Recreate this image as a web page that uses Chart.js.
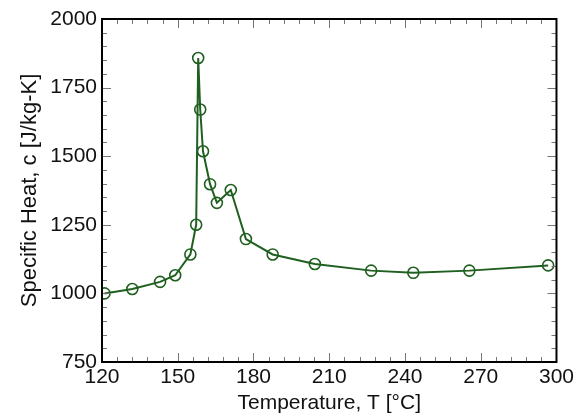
<!DOCTYPE html>
<html>
<head>
<meta charset="utf-8">
<script src="https://cdn.jsdelivr.net/npm/chart.js@4"></script>
<style>
  html, body { margin: 0; padding: 0; background: #fff; }
  #wrap { width: 577px; height: 418px; }
</style>
</head>
<body>
<div id="wrap"><canvas id="chart" width="577" height="418"></canvas></div>
<script>
// datos
const temps = [121, 132, 143, 149, 155, 157.3, 158.1, 158.9, 160, 162.8, 165.5, 171, 177, 187.6, 204.3, 226.6, 243.3, 265.5, 296.7];
const heat = [1000, 1016, 1042, 1066, 1142, 1250, 1858, 1670, 1518, 1398, 1330, 1377, 1198, 1142, 1107, 1083, 1075, 1083, 1102];
const xMajor = [120, 150, 180, 210, 240, 270, 300];
const yMajor = [750, 1000, 1250, 1500, 1750, 2000];

const points = temps.map((t, i) => ({ x: t, y: heat[i] }));
const green = '#1f5f1f';
const fontFam = '"Liberation Sans", Arial, sans-serif';

// marcas de escala hacia dentro en los cuatro lados
const tickPlugin = {
  id: 'innerTicks',
  afterDraw(chart) {
    const { ctx, chartArea: a, scales: { x, y } } = chart;
    ctx.save();
    ctx.strokeStyle = '#777';
    ctx.lineWidth = 1;
    x.ticks.forEach(t => {
      const px = Math.round(x.getPixelForValue(t.value)) + 0.5;
      const len = xMajor.includes(t.value) ? 9 : 5;
      ctx.beginPath();
      ctx.moveTo(px, a.bottom); ctx.lineTo(px, a.bottom - len);
      ctx.moveTo(px, a.top); ctx.lineTo(px, a.top + len);
      ctx.stroke();
    });
    y.ticks.forEach(t => {
      const py = Math.round(y.getPixelForValue(t.value)) + 0.5;
      const len = yMajor.includes(t.value) ? 9 : 5;
      ctx.beginPath();
      ctx.moveTo(a.left, py); ctx.lineTo(a.left + len, py);
      ctx.moveTo(a.right, py); ctx.lineTo(a.right - len, py);
      ctx.stroke();
    });
    // marco
    ctx.strokeStyle = '#000';
    ctx.lineWidth = 2;
    ctx.strokeRect(a.left, a.top, a.right - a.left, a.bottom - a.top);
    ctx.restore();
  }
};

new Chart(document.getElementById('chart'), {
  type: 'scatter',
  data: {
    datasets: [{
      data: points,
      showLine: true,
      borderColor: green,
      borderWidth: 2,
      pointRadius: 5.5,
      pointBorderWidth: 1.6,
      pointBorderColor: green,
      pointBackgroundColor: 'rgba(0,0,0,0)',
      tension: 0
    }]
  },
  options: {
    responsive: false,
    animation: false,
    layout: { padding: { top: 19, right: 18, left: 0, bottom: 0 } },
    plugins: { legend: { display: false }, tooltip: { enabled: false } },
    scales: {
      x: {
        type: 'linear',
        min: 120, max: 300,
        afterFit: s => { s.height = 56; },
        grid: { display: false, drawTicks: false },
        border: { display: false },
        ticks: {
          stepSize: 6,
          autoSkip: false,
          maxRotation: 0,
          padding: 3,
          color: '#111',
          font: { family: fontFam, size: 21 },
          callback: v => xMajor.includes(v) ? String(v) : ''
        },
        title: {
          display: true,
          text: 'Temperature, T [°C]',
          color: '#111',
          font: { family: fontFam, size: 21 },
          padding: { top: 0, bottom: 2 }
        }
      },
      y: {
        type: 'linear',
        min: 750, max: 2000,
        afterFit: s => { s.width = 102; },
        grid: { display: false, drawTicks: false },
        border: { display: false },
        ticks: {
          stepSize: 50,
          autoSkip: false,
          padding: 5,
          color: '#111',
          font: { family: fontFam, size: 21 },
          callback: v => yMajor.includes(v) ? String(v) : ''
        },
        title: {
          display: true,
          text: 'Specific Heat, c [J/kg-K]',
          color: '#111',
          font: { family: fontFam, size: 22 },
          padding: { top: 17, bottom: 0 }
        }
      }
    }
  },
  plugins: [tickPlugin]
});
</script>
</body>
</html>
